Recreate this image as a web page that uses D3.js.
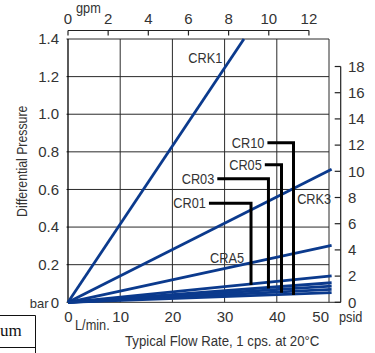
<!DOCTYPE html>
<html>
<head>
<meta charset="utf-8">
<script src="https://cdn.jsdelivr.net/npm/d3@7"></script>
<style>
  body { margin: 0; background: #fff; }
  svg { display: block; font-family: 'Liberation Sans', Arial, sans-serif; }
</style>
</head>
<body>
<svg width="375" height="353"></svg>
<script>
// flow in L/min, pressure in bar
let seriesNames = ['CRK1', 'CRK3', 'CRA5', 'CR01', 'CR03', 'CR02', 'CR05', 'CR10'];
let endFlow = [33.7, 50.5, 50.5, 50.5, 50.5, 50.5, 50.5, 50.5];
let endBar = [1.4, 0.707, 0.303, 0.141, 0.104, 0.086, 0.069, 0.051];

// plain labels (no leader)
let plainLabels = ['CRK1', 'CRK3', 'CRA5'];
let plainFlow = [23.05, 43.9, 27.2];
let plainBar = [1.27, 0.523, 0.209];

// labels with leader lines
let leaderLabels = ['CR01', 'CR03', 'CR05', 'CR10'];
let leaderStart = [27.0, 28.6, 37.7, 38.2];
let leaderFlow = [35.06, 38.4, 40.9, 43.2];
let leaderBar = [0.527, 0.657, 0.731, 0.849];

let flowTicks = [0, 10, 20, 30, 40, 50];
let barTicks = [0, 0.2, 0.4, 0.6, 0.8, 1.0, 1.2, 1.4];
let gpmTicks = [0, 2, 4, 6, 8, 10, 12];
let psiTicks = [0, 2, 4, 6, 8, 10, 12, 14, 16, 18];

let svg = d3.select('svg');
let blue = '#0b3a8d';
let ink = '#333';
let narrow = 0.88;

let x = d3.scaleLinear().domain([0, 50]).range([68, 329]);
let y = d3.scaleLinear().domain([0, 1.4]).range([302.3, 39]);
let gpm = d3.scaleLinear().domain([0, 13]).range(x.range());
let psi = d3.scaleLinear().domain([0, 20.1]).range(y.range());
let psiX = 340.7;

// grid
let grid = svg.append('g').attr('stroke', '#2a2a2a').attr('stroke-width', 1);
grid.selectAll('.v')
  .data(flowTicks.slice(1))
  .enter().append('line')
  .attr('x1', d => x(d)).attr('x2', d => x(d))
  .attr('y1', y(1.4)).attr('y2', y(0));
grid.selectAll('.h')
  .data(barTicks)
  .enter().append('line')
  .attr('x1', x(0) - 1.5)
  .attr('x2', d => d === 0 ? psiX : x(50))
  .attr('y1', d => y(d)).attr('y2', d => y(d));
svg.append('line')
  .attr('x1', x(0)).attr('x2', x(0))
  .attr('y1', y(1.4)).attr('y2', y(0))
  .attr('stroke', '#000').attr('stroke-width', 1.3);

// curves
let line = d3.line().x(d => x(d[0])).y(d => y(d[1]));
svg.append('g')
  .selectAll('path')
  .data(seriesNames.map((n, i) => [[0, 0], [endFlow[i], endBar[i]]]))
  .enter().append('path')
  .attr('d', line)
  .attr('fill', 'none')
  .attr('stroke', blue)
  .attr('stroke-width', 2.8);

// left axis labels
svg.append('g')
  .selectAll('text')
  .data(barTicks)
  .enter().append('text')
  .attr('x', x(0) - 9)
  .attr('y', d => y(d))
  .attr('dy', '0.35em')
  .attr('text-anchor', 'end')
  .attr('font-size', 15)
  .attr('fill', ink)
  .text(d => d === 0 ? '0' : d.toFixed(1));
svg.append('text')
  .attr('x', 48.5).attr('y', y(0) + 5.5)
  .attr('text-anchor', 'end')
  .attr('font-size', 13)
  .attr('fill', ink)
  .text('bar');
svg.append('text')
  .attr('transform', `translate(27,${y(0.75)})rotate(-90)scale(${narrow},1)`)
  .attr('text-anchor', 'middle')
  .attr('font-size', 14)
  .attr('fill', ink)
  .text('Differential Pressure');

// bottom axis labels
svg.append('g')
  .selectAll('text')
  .data(flowTicks)
  .enter().append('text')
  .attr('x', d => x(d) + (d === 50 ? 0 : 0.5))
  .attr('y', y(0) + 20)
  .attr('text-anchor', d => d === 50 ? 'end' : 'middle')
  .attr('font-size', 15)
  .attr('fill', ink)
  .text(d => d);
svg.append('text')
  .attr('transform', `translate(75,330)scale(${narrow},1)`)
  .attr('font-size', 14.5)
  .attr('fill', ink)
  .text('L/min.');
svg.append('text')
  .attr('transform', `translate(125,346)scale(${narrow},1)`)
  .attr('font-size', 15)
  .attr('fill', ink)
  .text('Typical Flow Rate, 1 cps. at 20°C');

// top gpm axis
let gpmAxis = svg.append('g').attr('stroke', '#222').attr('stroke-width', 1.2);
gpmAxis.append('line')
  .attr('x1', gpm(0)).attr('x2', gpm(12))
  .attr('y1', 30.5).attr('y2', 30.5);
gpmAxis.selectAll('.t')
  .data(gpmTicks)
  .enter().append('line')
  .attr('x1', d => gpm(d)).attr('x2', d => gpm(d))
  .attr('y1', 30.5).attr('y2', 35.5);
svg.append('g')
  .selectAll('text')
  .data(gpmTicks)
  .enter().append('text')
  .attr('x', d => gpm(d))
  .attr('y', 24)
  .attr('text-anchor', 'middle')
  .attr('font-size', 15)
  .attr('fill', ink)
  .text(d => d);
svg.append('text')
  .attr('transform', `translate(76,12.5)scale(${narrow},1)`)
  .attr('font-size', 14.5)
  .attr('fill', ink)
  .text('gpm');

// right psid axis
let psiAxis = svg.append('g').attr('stroke', '#222').attr('stroke-width', 1.2);
psiAxis.append('line')
  .attr('x1', psiX).attr('x2', psiX)
  .attr('y1', psi(18)).attr('y2', psi(0));
psiAxis.selectAll('.t')
  .data(psiTicks)
  .enter().append('line')
  .attr('x1', psiX - 6).attr('x2', psiX)
  .attr('y1', d => psi(d)).attr('y2', d => psi(d));
svg.append('g')
  .selectAll('text')
  .data(psiTicks)
  .enter().append('text')
  .attr('x', 348)
  .attr('y', d => psi(d))
  .attr('dy', '0.35em')
  .attr('font-size', 15)
  .attr('fill', ink)
  .text(d => d);
svg.append('text')
  .attr('transform', `translate(339,322)scale(${narrow},1)`)
  .attr('font-size', 14.5)
  .attr('fill', ink)
  .text('psid');

// series labels
svg.append('g')
  .selectAll('text')
  .data(plainLabels)
  .enter().append('text')
  .attr('transform', (d, i) => `translate(${x(plainFlow[i])},${y(plainBar[i])})scale(${narrow},1)`)
  .attr('font-size', 14.5)
  .attr('fill', ink)
  .text(d => d);

let leader = svg.append('g')
  .selectAll('g')
  .data(leaderLabels)
  .enter().append('g');
leader.append('text')
  .attr('transform', (d, i) => `translate(${x(leaderStart[i]) - 3},${y(leaderBar[i])})scale(${narrow},1)`)
  .attr('dy', '0.34em')
  .attr('text-anchor', 'end')
  .attr('font-size', 14.5)
  .attr('fill', ink)
  .text(d => d);
leader.append('path')
  .attr('fill', 'none')
  .attr('stroke', '#000')
  .attr('stroke-width', 3)
  .attr('d', (d, i) => {
    let s = seriesNames.indexOf(d);
    let endY = y(endBar[s] * leaderFlow[i] / endFlow[s]) + 1;
    return `M${x(leaderStart[i])},${y(leaderBar[i])}H${x(leaderFlow[i])}V${endY}`;
  });

// fragment of neighbouring table
svg.append('path')
  .attr('d', 'M0,315.5H35.5V353M0,347.5H35.5')
  .attr('fill', 'none')
  .attr('stroke', '#111')
  .attr('stroke-width', 1);
svg.append('text')
  .attr('x', 0).attr('y', 336)
  .attr('font-family', "'Liberation Serif', serif")
  .attr('font-size', 17)
  .attr('fill', '#111')
  .text('um');
</script>
</body>
</html>
